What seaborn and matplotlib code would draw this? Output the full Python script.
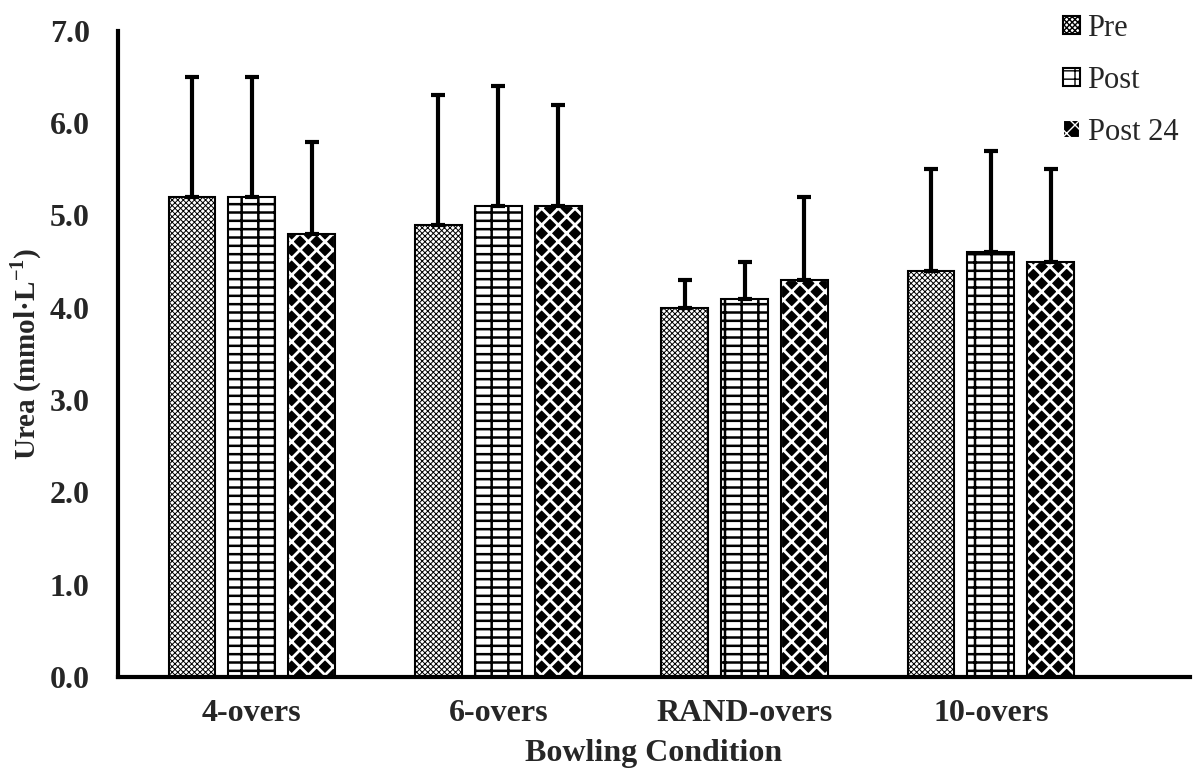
import numpy as np
import pandas as pd
import matplotlib
matplotlib.use("Agg")
import matplotlib.pyplot as plt
import seaborn as sns

# ---------------------------------------------------------------------------
# Data (mean and SD of urea per bowling condition and time point)
# ---------------------------------------------------------------------------
conditions = ["4-overs", "6-overs", "RAND-overs", "10-overs"]
timepoints = ["Pre", "Post", "Post 24"]
pre_mean    = [5.2, 4.9, 4.0, 4.4]
post_mean   = [5.2, 5.1, 4.1, 4.6]
post24_mean = [4.8, 5.1, 4.3, 4.5]
pre_sd      = [1.3, 1.4, 0.3, 1.1]
post_sd     = [1.3, 1.3, 0.4, 1.1]
post24_sd   = [1.0, 1.1, 0.9, 1.0]

means = [pre_mean, post_mean, post24_mean]
sds = [pre_sd, post_sd, post24_sd]

df = pd.DataFrame({
    "Condition": conditions * 3,
    "Time": np.repeat(timepoints, len(conditions)),
    "Urea": np.concatenate(means),
    "SD": np.concatenate(sds),
})

sns.set_theme(style="white")
plt.rcParams["font.family"] = ["Liberation Serif", "DejaVu Serif"]
plt.rcParams["mathtext.fontset"] = "custom"
plt.rcParams["mathtext.rm"] = "Liberation Serif"
plt.rcParams["mathtext.bf"] = "Liberation Serif:bold"

fig = plt.figure(figsize=(12, 7.72), dpi=100)
ax = fig.add_axes([0.098, 0.123, 0.894, 0.837])

sns.barplot(data=df, x="Condition", y="Urea", hue="Time", order=conditions,
            hue_order=timepoints, errorbar=None, width=0.73, gap=0.22,
            edgecolor="black", linewidth=1.5, legend=False, ax=ax)

# hatch patterns: fine checker, brick-like grid, black diamonds
hatches = ["xxxxxx", "+-", "xx"]
hatch_lw = [0.7, 1.8, 2.0]


def set_hlw(patch, lw):
    if hasattr(patch, "set_hatch_linewidth"):
        patch.set_hatch_linewidth(lw)
    else:
        patch._hatch_linewidth = lw


bar_groups = list(ax.containers)[:3]
for i, cont in enumerate(bar_groups):
    xs = [b.get_x() + b.get_width() / 2 for b in cont]
    w = cont[0].get_width()
    for bar in cont:
        bar.set_hatch(hatches[i])
        set_hlw(bar, hatch_lw[i])
        if i == 2:
            # black diamonds: black face, white hatch lines
            bar.set_facecolor("black")
            bar.set_edgecolor("white")
        else:
            bar.set_facecolor("white")
            bar.set_edgecolor("black")
    if i == 2:
        ax.bar(xs, means[i], width=w, fill=False, edgecolor="black",
               linewidth=1.5, zorder=3)
    ax.errorbar(xs, means[i], yerr=[np.zeros(len(sds[i])), sds[i]], fmt="none",
                ecolor="black", elinewidth=3, capsize=5, capthick=3, zorder=1)

ax.set_ylim(0, 7)
ax.set_xlim(-0.545, 3.81)
ax.set_yticks(np.arange(0, 7.1, 1.0))
ax.set_yticklabels([f"{v:.1f}" for v in np.arange(0, 7.1, 1.0)])
ax.tick_params(axis="both", length=0, labelsize=23)
ax.tick_params(axis="y", pad=20)
ax.tick_params(axis="x", pad=16)
for lab in ax.get_xticklabels() + ax.get_yticklabels():
    lab.set_fontweight("bold")

ax.set_xlabel("Bowling Condition", fontsize=23, fontweight="bold", labelpad=8)
ax.set_ylabel("Urea (mmol·L$^{\\mathbf{-1}}$)", fontsize=21, fontweight="bold", labelpad=4)

sns.despine(ax=ax)
for s in ["left", "bottom"]:
    ax.spines[s].set_linewidth(3)
    ax.spines[s].set_color("black")

leg = ax.legend(handles=[g[0] for g in bar_groups], labels=timepoints,
                loc="upper right", bbox_to_anchor=(1.0, 1.045), frameon=False,
                fontsize=22, handlelength=0.55, handleheight=0.55, handletextpad=0.25,
                labelspacing=0.75, borderaxespad=0)

fig.savefig("out.png", dpi=100)
